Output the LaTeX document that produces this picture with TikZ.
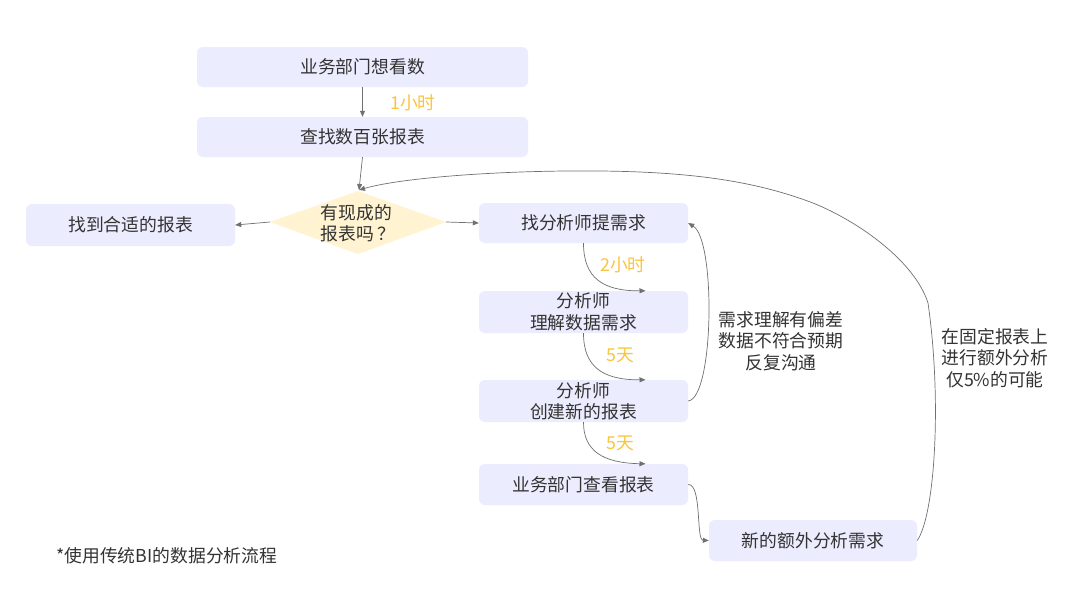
\documentclass[tikz,border=0pt]{standalone}
\usepackage{fontspec}
\newfontfamily\cjk{Noto Sans CJK SC}
\usetikzlibrary{arrows.meta,calc}
\definecolor{boxfill}{HTML}{ECECFF}
\definecolor{qfill}{HTML}{FFF3D2}
\definecolor{txt}{HTML}{333333}
\definecolor{ln}{HTML}{707070}
\definecolor{lbl}{HTML}{FAC53E}
\begin{document}
\begin{tikzpicture}[x=1pt,y=-1pt,
  font=\cjk\fontsize{17.8}{21.5}\selectfont,
  box/.style={fill=boxfill, rounded corners=6pt, text=txt, align=center, inner sep=0pt},
  wide/.style={box, minimum width=331pt, minimum height=40pt},
  narrow/.style={box, minimum width=209pt, minimum height=41pt},
  arr/.style={draw=ln, line width=0.7pt, -{Triangle[length=6pt,width=5pt]}},
  lab/.style={text=lbl, inner sep=0pt},
  note/.style={text=txt, align=center, inner sep=0pt}]
\useasboundingbox[fill=white] (0,0) rectangle (1080,608);

\node[wide] (A) at (362.5,67) {业务部门想看数};
\node[wide] (B) at (362.5,137) {查找数百张报表};

\fill[qfill] (270,222) -- (358,191) -- (446,222) -- (358,254) -- cycle;
\coordinate (qL) at (270,222);
\coordinate (qR) at (446,222);
\coordinate (qT) at (359,190);
\node[text=txt, align=left, inner sep=0pt] (q) at (358,223) {有现成的\\报表吗\,？};

\node[narrow, minimum height=42pt] (C) at (130.5,225) {找到合适的报表};
\node[narrow, minimum height=40pt] (D) at (583.5,223) {找分析师提需求};
\node[narrow, minimum height=42pt] (E) at (583.5,312) {分析师\\理解数据需求};
\node[narrow, minimum height=42pt] (F) at (583.5,401) {分析师\\创建新的报表};
\node[narrow] (G) at (583.5,484.5) {业务部门查看报表};
\node[narrow, minimum width=208pt] (H) at (813,540.5) {新的额外分析需求};

\draw[arr] (A.south) -- (B.north);
\node[lab] (l1) at (413,103) {1小时};
\draw[arr] (B.south) -- (qT);
\draw[arr] (qL) -- (C.east);
\draw[arr] (qR) -- (D.west);

\draw[arr] (D.south) .. controls (583.5,278) and (603,291) .. ([xshift=62pt]E.north);
\node[lab] (l2) at (623,265) {2小时};
\draw[arr] (E.south) .. controls (583.5,367) and (603,380) .. ([xshift=62pt]F.north);
\node[lab] (l3) at (620,355) {5天};
\draw[arr] (F.south) .. controls (583.5,451) and (603,463) .. ([xshift=62pt]G.north);
\node[lab] (l4) at (620,443) {5天};

\draw[arr] (F.east) .. controls (714,398) and (716,240) .. (D.east);
\node[note] (n1) at (781,341) {需求理解有偏差\\数据不符合预期\\反复沟通};

\draw[arr] (G.east) .. controls (702,484) and (696,540) .. (H.west);

\draw[arr] (H.east) .. controls (935,515) and (942,400) .. (928,303)
  .. controls (915,262) and (860,222) .. (813,203)
  .. controls (760,183) and (700,172) .. (600,171)
  .. controls (500,170) and (400,178) .. (qT);
\node[note] (n2) at (995,358) {在固定报表上\\进行额外分析\\仅5\%的可能};

\node[text=txt, anchor=west, inner sep=0pt] (foot) at (56,556) {*使用传统BI的数据分析流程};
\end{tikzpicture}
\end{document}
